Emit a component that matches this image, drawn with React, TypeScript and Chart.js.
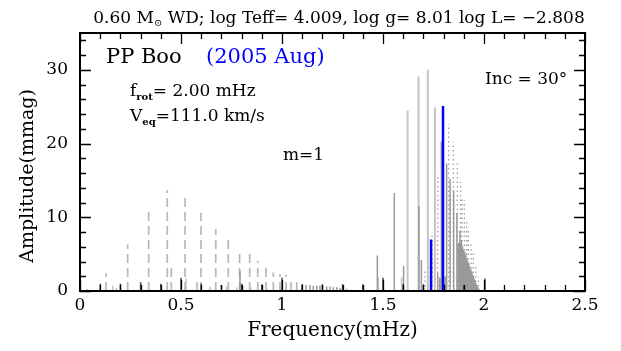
import React, { useEffect, useRef } from 'react';
import { Chart, registerables } from 'chart.js';

Chart.register(...registerables);

const FONT = "'DejaVu Serif', serif";

// Axis tick labels
const xTickValues = [0, 0.5, 1, 1.5, 2, 2.5];
const yTickValues = [0, 10, 20, 30];

// Light grey dashed lines (low-frequency modes)
const dashedFreq = [0.129, 0.236, 0.340, 0.432, 0.452, 0.520, 0.579, 0.599, 0.672, 0.734, 0.790, 0.840, 0.880, 0.921, 0.957, 0.990, 1.020, 1.045, 1.073];
const dashedAmp = [2.4, 6.3, 11.4, 13.7, 3.2, 13.1, 1.6, 10.6, 8.4, 7.0, 5.7, 5.3, 4.1, 3.2, 2.5, 2.3, 2.2, 1.8, 1.6];

// Dark grey short solid lines
const darkFreq = [0.1, 0.2, 0.3, 0.4, 0.5, 0.6, 0.7, 0.8, 0.9, 1.0, 1.1, 1.2, 1.3, 1.4, 1.5, 1.6, 1.7, 1.8, 1.9, 2.005];
const darkAmp = [1.0, 1.0, 1.2, 1.0, 1.8, 1.0, 0.8, 1.0, 0.9, 1.8, 0.9, 0.9, 0.9, 0.9, 1.8, 1.0, 0.9, 1.0, 0.8, 1.7];

// Light grey small solid lines
const lightSmallFreq = [0.036, 0.162, 0.180, 0.525, 0.644, 0.726, 0.776, 0.846, 0.924, 1.477, 1.592];
const lightSmallAmp = [0.3, 0.7, 0.4, 1.7, 0.6, 0.6, 0.5, 0.5, 0.4, 1.8, 1.9];

// Light grey tall solid lines
const lightTallFreq = [1.622, 1.676, 1.722, 1.757];
const lightTallAmp = [24.5, 29.1, 30.0, 24.9];

// Medium grey solid lines
const greyFreq = [0.792, 1.098, 1.119, 1.139, 1.155, 1.172, 1.188, 1.221, 1.238, 1.254, 1.271, 1.287, 1.320, 1.472, 1.556, 1.602, 1.678, 1.690, 1.771, 1.781, 1.789, 1.807, 1.815, 1.832, 1.850, 1.866, 1.874, 1.881, 1.888, 1.894, 1.899, 1.905, 1.910, 1.915, 1.920, 1.925, 1.930, 1.935, 1.940, 1.945, 1.950, 1.955, 1.960, 1.965, 1.970, 1.975];
const greyAmp = [2.7, 0.9, 0.8, 0.8, 0.7, 0.7, 0.7, 0.6, 0.6, 0.5, 0.5, 0.4, 0.3, 4.8, 13.3, 3.4, 11.5, 4.2, 2.4, 1.8, 20.3, 2.0, 17.3, 15.2, 13.6, 10.6, 6.5, 8.2, 6.9, 6.0, 5.6, 5.3, 4.9, 4.4, 4.0, 3.7, 3.3, 2.9, 2.6, 2.2, 1.8, 1.5, 1.1, 0.8, 0.5, 0.3];

// Grey dotted lines
const dottedFreq = [1.708, 1.734, 1.743, 1.771, 1.825, 1.848, 1.868, 1.884, 1.891, 1.903, 1.914, 1.922, 1.936, 1.947, 1.959, 1.972];
const dottedAmp = [2.8, 3.3, 8.0, 15.9, 22.7, 20.2, 17.5, 14.8, 12.7, 12.3, 9.6, 8.2, 6.4, 5.1, 3.3, 1.9];

// Blue solid lines (observed)
const blueFreq = [1.738, 1.797];
const blueAmp = [7.0, 25.1];

function segments(freqs: number[], amps: number[]) {
  const pts: { x: number; y: number | null }[] = [];
  freqs.forEach((f, i) => {
    pts.push({ x: f, y: 0 }, { x: f, y: amps[i] }, { x: f, y: null });
  });
  return pts;
}

function lineSet(label: string, freqs: number[], amps: number[], color: string, width: number, dash: number[]) {
  return {
    label,
    data: segments(freqs, amps),
    borderColor: color,
    borderWidth: width,
    borderDash: dash,
    borderCapStyle: 'butt',
    pointRadius: 0,
    fill: false,
    tension: 0,
    spanGaps: false,
  };
}

const framePlugin = {
  id: 'frame',
  afterDraw(chart: any) {
    const { ctx, chartArea } = chart;
    const { left, right, top, bottom } = chartArea;
    const xs = chart.scales.x;
    const ys = chart.scales.y;
    ctx.save();
    ctx.strokeStyle = '#000';
    ctx.lineWidth = 1.3;
    ctx.beginPath();
    for (let i = 0; i <= 25; i++) {
      const px = Math.round(xs.getPixelForValue(i / 10)) + 0.5;
      const len = i % 5 === 0 ? 11 : 6;
      ctx.moveTo(px, bottom); ctx.lineTo(px, bottom - len);
      ctx.moveTo(px, top); ctx.lineTo(px, top + len);
    }
    for (let v = 0; v <= 35; v += 2) {
      const py = Math.round(ys.getPixelForValue(v)) + 0.5;
      const len = v % 10 === 0 ? 11 : 6;
      ctx.moveTo(left, py); ctx.lineTo(left + len, py);
      ctx.moveTo(right, py); ctx.lineTo(right - len, py);
    }
    ctx.stroke();
    ctx.lineWidth = 2;
    ctx.strokeRect(left, top, right - left, bottom - top);

    // Title with subscript sun symbol
    ctx.fillStyle = '#000';
    ctx.textBaseline = 'alphabetic';
    ctx.textAlign = 'left';
    const t1 = '0.60 M';
    const t2 = '\u2299';
    const t3 = ' WD; log Teff= 4.009, log g= 8.01 log L= \u22122.808';
    ctx.font = `17px ${FONT}`;
    const w1 = ctx.measureText(t1).width;
    const w3 = ctx.measureText(t3).width;
    ctx.font = `10px ${FONT}`;
    const w2 = ctx.measureText(t2).width;
    let tx = 339 - (w1 + w2 + w3) / 2;
    const ty = 23;
    ctx.font = `17px ${FONT}`;
    ctx.fillText(t1, tx, ty); tx += w1;
    ctx.font = `10px ${FONT}`;
    ctx.fillText(t2, tx, ty + 3); tx += w2;
    ctx.font = `17px ${FONT}`;
    ctx.fillText(t3, tx, ty);

    // Y axis title
    ctx.save();
    ctx.translate(28, 176);
    ctx.rotate(-Math.PI / 2);
    ctx.textAlign = 'center';
    ctx.textBaseline = 'middle';
    ctx.font = `19px ${FONT}`;
    ctx.fillText('Amplitude(mmag)', 0, 0);
    ctx.restore();

    // Annotations
    ctx.textAlign = 'left';
    ctx.textBaseline = 'alphabetic';
    ctx.font = `21px ${FONT}`;
    ctx.fillText('PP Boo', 106, 63);
    ctx.fillStyle = '#0000ff';
    ctx.fillText('(2005 Aug)', 206, 63);
    ctx.fillStyle = '#000';

    const sub = (main: string, s: string, rest: string, x: number, y: number) => {
      ctx.font = `17px ${FONT}`;
      ctx.fillText(main, x, y);
      let cx = x + ctx.measureText(main).width;
      ctx.font = `bold 10px ${FONT}`;
      ctx.fillText(s, cx, y + 4);
      cx += ctx.measureText(s).width;
      ctx.font = `17px ${FONT}`;
      ctx.fillText(rest, cx, y);
    };
    sub('f', 'rot', '= 2.00 mHz', 130, 96);
    sub('V', 'eq', '=111.0 km/s', 130, 121);

    ctx.font = `17px ${FONT}`;
    ctx.fillText('m=1', 283, 160);
    ctx.fillText('Inc = 30\u00b0', 485, 84);
    ctx.restore();
  },
};

export default function App() {
  const ref = useRef<HTMLCanvasElement>(null);
  useEffect(() => {
    document.body.style.margin = '0';
    const canvas = ref.current!;
    const chart = new Chart(canvas, {
      type: 'line',
      data: {
        datasets: [
          lineSet('blue', blueFreq, blueAmp, '#0000ff', 2.5, []),
          lineSet('dark', darkFreq, darkAmp, '#444444', 1.5, []),
          lineSet('grey', greyFreq, greyAmp, '#999999', 1.5, []),
          lineSet('dotted', dottedFreq, dottedAmp, '#a0a0a0', 1.3, [1.5, 3]),
          lineSet('lightTall', lightTallFreq, lightTallAmp, '#c4c4c4', 2, []),
          lineSet('lightSmall', lightSmallFreq, lightSmallAmp, '#c4c4c4', 1.5, []),
          lineSet('dashed', dashedFreq, dashedAmp, '#b8b8b8', 1.7, [9, 5]),
        ] as any,
      },
      options: {
        animation: false,
        responsive: false,
        events: [],
        layout: { padding: { top: 33, right: 36, left: 0, bottom: 0 } },
        plugins: { legend: { display: false }, tooltip: { enabled: false } },
        scales: {
          x: {
            type: 'linear',
            min: 0,
            max: 2.5,
            grid: { display: false, drawTicks: false },
            border: { display: false },
            afterBuildTicks: (s: any) => { s.ticks = xTickValues.map((v) => ({ value: v })); },
            afterFit: (s: any) => { s.height = 60; },
            ticks: {
              autoSkip: false,
              maxRotation: 0,
              padding: 4,
              color: '#000',
              font: { family: FONT, size: 17 },
              callback: (v: any) => String(v),
            },
            title: {
              display: true,
              text: 'Frequency(mHz)',
              color: '#000',
              font: { family: FONT, size: 20 },
              padding: { top: 0, bottom: 8 },
            },
          },
          y: {
            type: 'linear',
            min: 0,
            max: 35,
            grid: { display: false, drawTicks: false },
            border: { display: false },
            afterBuildTicks: (s: any) => { s.ticks = yTickValues.map((v) => ({ value: v })); },
            afterFit: (s: any) => { s.width = 80; },
            ticks: {
              padding: 12,
              color: '#000',
              font: { family: FONT, size: 17 },
              callback: (v: any) => String(v),
            },
            title: { display: false },
          },
        },
      },
      plugins: [framePlugin],
    } as any);
    return () => chart.destroy();
  }, []);
  return (
    <div style={{ position: 'absolute', left: 0, top: 0, width: 621, height: 351 }}>
      <canvas ref={ref} width={621} height={351} />
    </div>
  );
}
